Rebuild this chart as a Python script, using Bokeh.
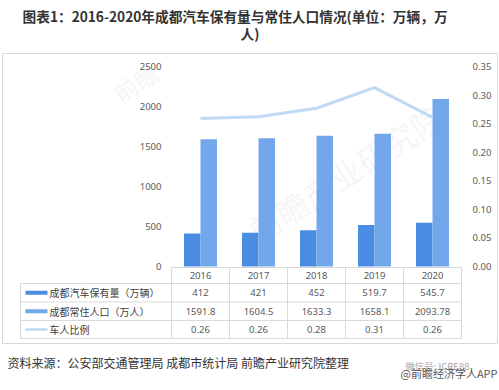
import numpy as np
from bokeh.plotting import figure
from bokeh.models import Range1d, LinearAxis, FixedTicker, NumeralTickFormatter
from bokeh.core.properties import value
from bokeh.embed import file_html
from bokeh.resources import INLINE

# ---------------- data ----------------
years = ["2016", "2017", "2018", "2019", "2020"]
car_stock = [412, 421, 452, 519.7, 545.7]              # 成都汽车保有量（万辆）
population = [1591.8, 1604.5, 1633.3, 1658.1, 2093.78]  # 成都常住人口（万人）
car_ratio = [0.259, 0.262, 0.277, 0.313, 0.261]         # 车人比例
left_ticks = [0, 500, 1000, 1500, 2000, 2500]
right_ticks = [0, 0.05, 0.10, 0.15, 0.20, 0.25, 0.30, 0.35]
series_names = ["成都汽车保有量（万辆）", "成都常住人口（万人）", "车人比例"]
title_lines = ["图表1：2016-2020年成都汽车保有量与常住人口情况(单位：万辆，万", "人)"]
source_text = "资料来源：公安部交通管理局 成都市统计局 前瞻产业研究院整理"
wm_line1 = "微信号: ICRE88"
wm_line2 = "@前瞻经济学人APP"
wm_logo = "前瞻产业研究院"

# ---------------- layout (page pixels) ----------------
PAGE_L, PAGE_T = 0, 0
W, H = 499, 390
PLOT_L, PLOT_R = 171, 461
PLOT_TOP, PLOT_BOT = 66, 266
N = len(years)
COL = (PLOT_R - PLOT_L) / N
LMAX, RMAX = 2500, 0.35
ky = (PLOT_BOT - PLOT_TOP) / LMAX
kr = (PLOT_BOT - PLOT_TOP) / RMAX


def xd(px):
    return (px - PLOT_L) / COL - 0.5


FONT = value("Noto Sans CJK SC")
NUMF = value("Noto Sans")
DARK = "#4A8DE3"
LIGHT = "#72A7EC"
LINEC = "#C0D9F4"
GRID = "#D9D9D9"
TXT = "#404040"

p = figure(width=W, height=H, output_backend="svg", toolbar_location=None,
           x_range=Range1d(xd(PAGE_L), xd(PAGE_L + W)),
           y_range=Range1d((PLOT_BOT - (PAGE_T + H)) / ky, (PLOT_BOT - PAGE_T) / ky),
           x_axis_location=None, y_axis_location=None, min_border=0)
p.extra_y_ranges = {
    "ratio": Range1d((PLOT_BOT - (PAGE_T + H)) / kr, (PLOT_BOT - PAGE_T) / kr),
    "px": Range1d(PAGE_T + H, PAGE_T),
}
p.extra_x_ranges = {"px": Range1d(PAGE_L, PAGE_L + W)}
p.outline_line_color = None
p.grid.visible = False
p.background_fill_color = "white"
p.border_fill_color = "white"

# faint watermarks
p.text(x=[345, 135], y=[172, 82], text=[wm_logo, wm_logo[:2]], angle=[0.57, 0.57],
       x_range_name="px", y_range_name="px", text_font=FONT,
       text_font_size=["32px", "24px"], text_color="#BFBFBF", text_alpha=0.18,
       text_align="center", text_baseline="middle")

# outer chart box
p.quad(left=[2], right=[497], top=[53], bottom=[343], x_range_name="px", y_range_name="px",
       fill_color=None, line_color=GRID, line_width=1)

# axes
yl = LinearAxis(ticker=FixedTicker(ticks=left_ticks), fixed_location=xd(PLOT_L))
yr = LinearAxis(y_range_name="ratio", ticker=FixedTicker(ticks=right_ticks),
                formatter=NumeralTickFormatter(format="0.00"), fixed_location=xd(PLOT_R))
for ax in (yl, yr):
    ax.axis_line_color = None
    ax.major_tick_line_color = None
    ax.minor_tick_line_color = None
    ax.major_tick_out = 0
    ax.major_tick_in = 0
    ax.minor_tick_out = 0
    ax.minor_tick_in = 0
    ax.major_label_text_font = "Noto Sans"
    ax.major_label_text_font_size = "9.5px"
    ax.major_label_text_color = "#595959"
yl.major_label_standoff = 10
yr.major_label_standoff = 11
p.add_layout(yl, "left")
p.add_layout(yr, "right")

# bars and line
xs = np.arange(N)
BW = 16.5 / COL
p.vbar(x=xs - BW / 2, top=car_stock, width=BW, fill_color=DARK, line_color=None)
p.vbar(x=xs + BW / 2, top=population, width=BW, fill_color=LIGHT, line_color=None)
p.line(x=xs, y=car_ratio, y_range_name="ratio", line_color=LINEC, line_width=3)

# data table
ROWS = [267, 283, 301.5, 320, 338]
TBL_L = 20
p.segment(x0=[PLOT_L] + [TBL_L] * 4, x1=[PLOT_R] * 5, y0=ROWS, y1=ROWS,
          x_range_name="px", y_range_name="px", line_color=GRID, line_width=1)
vx = [PLOT_L + COL * k for k in range(N + 1)]
p.segment(x0=vx, x1=vx, y0=[ROWS[0]] * len(vx), y1=[ROWS[-1]] * len(vx),
          x_range_name="px", y_range_name="px", line_color=GRID, line_width=1)
p.segment(x0=[TBL_L], x1=[TBL_L], y0=[ROWS[1]], y1=[ROWS[-1]],
          x_range_name="px", y_range_name="px", line_color=GRID, line_width=1)

row_mid = [(ROWS[k] + ROWS[k + 1]) / 2 for k in range(4)]
p.text(x=xs, y=[row_mid[0]] * N, text=years, y_range_name="px",
       text_font=NUMF, text_font_size="9.5px", text_color="#595959",
       text_align="center", text_baseline="middle")
fmt_vals = [[f"{v:g}" for v in car_stock], [f"{v:g}" for v in population],
            [f"{v:.2f}" for v in car_ratio]]
for r in range(3):
    p.text(x=xs, y=[row_mid[r + 1]] * N, text=fmt_vals[r], y_range_name="px",
           text_font=NUMF, text_font_size="9.5px", text_color="#595959",
           text_align="center", text_baseline="middle")

# legend keys inside table
p.quad(left=[25, 25], right=[47, 47], top=[row_mid[1] - 2, row_mid[2] - 2],
       bottom=[row_mid[1] + 2, row_mid[2] + 2], fill_color=[DARK, LIGHT], line_color=None,
       x_range_name="px", y_range_name="px")
p.segment(x0=[25], x1=[47], y0=[row_mid[3]], y1=[row_mid[3]], line_color=LINEC,
          line_width=2.5, x_range_name="px", y_range_name="px")
p.text(x=[49] * 3, y=row_mid[1:], text=series_names, x_range_name="px", y_range_name="px",
       text_font=FONT, text_font_size="10px", text_color=TXT,
       text_align="left", text_baseline="middle")

# title
p.text(x=[22, 240], y=[15, 32], text=title_lines, x_range_name="px", y_range_name="px",
       text_font=FONT, text_font_size="13.7px", text_font_style="bold", text_color="#333333",
       text_align="left", text_baseline="middle")

# footer
p.text(x=[7], y=[362], text=[source_text], x_range_name="px", y_range_name="px",
       text_font=FONT, text_font_size="12px", text_color="#333333",
       text_align="left", text_baseline="middle")
p.text(x=[469, 497], y=[365, 372], text=[wm_line1, wm_line2], x_range_name="px",
       y_range_name="px", text_font=FONT, text_font_size=["9.5px", "11px"],
       text_color=["#A6A6A6", "#555555"], text_align="right", text_baseline="middle")

open("out.html", "w").write(file_html(p, INLINE))
